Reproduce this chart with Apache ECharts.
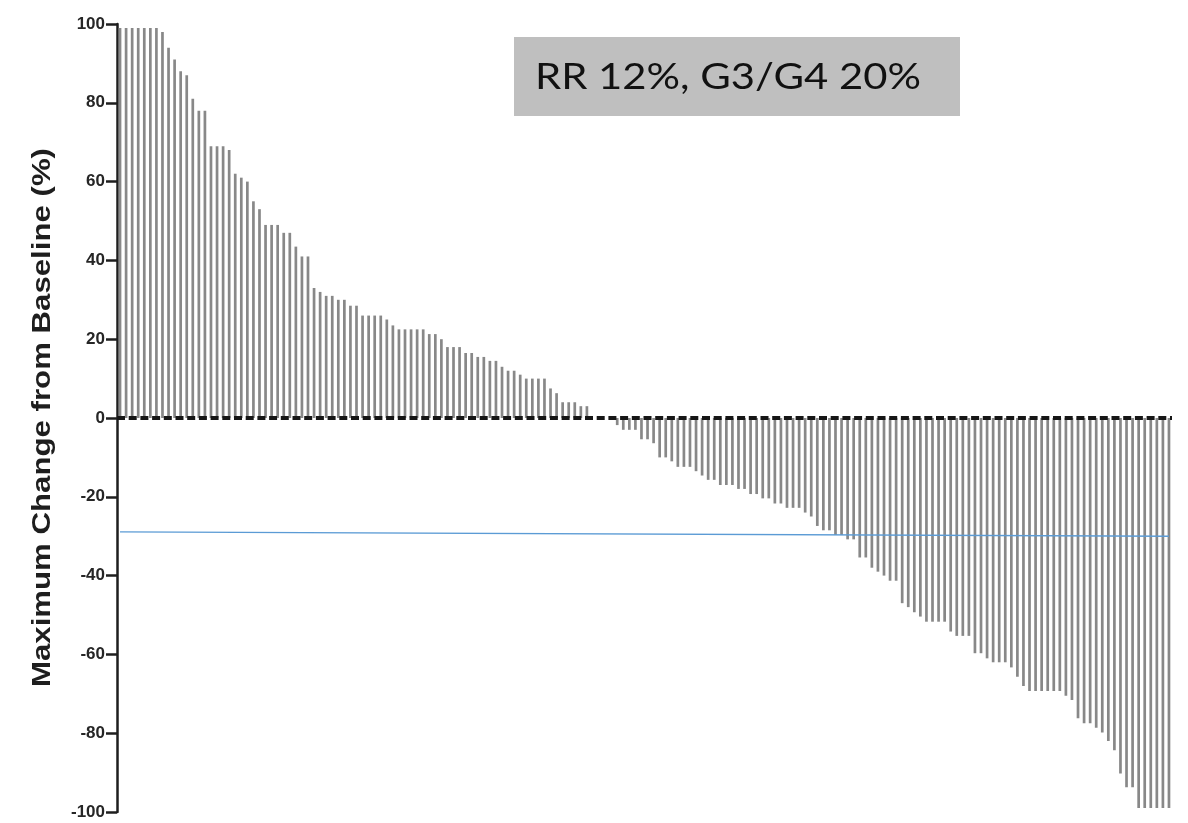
<!DOCTYPE html>
<html>
<head>
<meta charset="utf-8">
<script src="https://cdn.jsdelivr.net/npm/echarts@6/dist/echarts.min.js"></script>
<style>
  html, body { margin: 0; padding: 0; background: #ffffff; }
  #chart { width: 1188px; height: 823px; }
</style>
</head>
<body>
<div id="chart"></div>
<script>
// Maximum change from baseline (%) per patient, sorted high to low
const increases = [
  99, 99, 99, 99, 99, 99, 99, 98, 94, 91,
  88, 87, 81, 78, 78, 69, 69, 69, 68, 62,
  61, 60, 55, 53, 49, 49, 49, 47, 47, 43.5,
  41, 41, 33, 32, 31, 31, 30, 30, 28.5, 28.5,
  26, 26, 26, 26, 25, 23.5, 22.5, 22.5, 22.5, 22.5,
  22.5, 21.3, 21.3, 20, 18, 18, 18, 16.5, 16.5, 15.5,
  15.5, 14.5, 14.5, 13, 12, 12, 11, 10, 10, 10,
  10, 7.5, 6.3, 4, 4, 4, 3, 3
];
const unchanged = [0, 0, 0, 0];
const decreases = [
  -1.8, -3, -3, -3, -5.4, -5.4, -6.4, -10, -10, -11,
  -12.4, -12.4, -12.4, -13.5, -14.6, -15.7, -15.7, -17, -17, -17,
  -18, -18, -19.3, -19.3, -20.4, -20.4, -21.7, -21.7, -22.8, -22.8,
  -22.8, -24, -25, -27.4, -28.5, -28.5, -29.7, -29.7, -30.8, -30.8,
  -35.4, -35.4, -38, -39, -40, -41.3, -41.3, -47, -48, -49.3,
  -50.4, -51.7, -51.7, -51.7, -51.7, -54.2, -55.3, -55.3, -55.3, -59.7,
  -59.7, -61, -62, -62, -62, -63.3, -65.7, -68, -69.3, -69.3,
  -69.3, -69.3, -69.3, -69.3, -70.5, -71.6, -76.2, -77.5, -77.5, -78.6,
  -79.8, -82, -84.3, -90.2, -93.7, -93.7, -99, -99, -99, -99,
  -99, -99
];

// Partial-response reference line (start and end values)
const responseLine = [-28.9, -30];

const yTickValues = [-100, -80, -60, -40, -20, 0, 20, 40, 60, 80, 100];
const yTickLabels = ['-100', '-80', '-60', '-40', '-20', '0', '20', '40', '60', '80', '100'];

const yAxisTitle = 'Maximum Change from Baseline (%)';
const annotationText = 'RR 12%, G3/G4 20%';

const maxChange = increases.concat(unchanged, decreases);
const patients = maxChange.map((_, i) => 'P' + (i + 1));

function textWidth(font, text) {
  const ctx = document.createElement('canvas').getContext('2d');
  ctx.font = font;
  return ctx.measureText(text).width;
}

const TITLE_FONT = 'bold 25px "Liberation Sans", Arial, sans-serif';
const NOTE_FONT = '36px Lato, "Open Sans", sans-serif';
const titleScale = 539 / textWidth(TITLE_FONT, yAxisTitle);
const noteScale = 386 / textWidth(NOTE_FONT, annotationText);

const chart = echarts.init(document.getElementById('chart'), null, { renderer: 'canvas' });

chart.setOption({
  animation: false,
  backgroundColor: '#ffffff',
  grid: { left: 117, right: 16, top: 24, bottom: 11, containLabel: false },
  xAxis: {
    type: 'category',
    data: patients,
    boundaryGap: true,
    axisLine: { show: false },
    axisTick: { show: false },
    axisLabel: { show: false },
    splitLine: { show: false }
  },
  yAxis: {
    type: 'value',
    min: yTickValues[0],
    max: yTickValues[yTickValues.length - 1],
    interval: 20,
    axisLine: { show: true, lineStyle: { color: '#1e1e1e', width: 2.5 } },
    axisTick: { show: true, length: 11, lineStyle: { color: '#1e1e1e', width: 2.5 } },
    axisLabel: {
      margin: 12,
      color: '#262626',
      fontFamily: '"Liberation Sans", Arial, sans-serif',
      fontWeight: 'bold',
      fontSize: 17,
      formatter: v => yTickLabels[yTickValues.indexOf(v)]
    },
    splitLine: { show: false }
  },
  series: [{
    type: 'bar',
    data: maxChange,
    barWidth: 2.7,
    itemStyle: { color: '#888888' },
    silent: true,
    markLine: {
      silent: true,
      symbol: 'none',
      label: { show: false },
      data: [
        {
          yAxis: 0,
          lineStyle: { color: '#161616', width: 4, type: [8, 3.7] }
        },
        [
          { coord: [patients[0], responseLine[0]], lineStyle: { color: '#5b9bd5', width: 1.4, type: 'solid' } },
          { coord: [patients[patients.length - 1], responseLine[1]] }
        ]
      ]
    }
  }],
  graphic: [
    {
      type: 'text',
      x: 43,
      y: 417.5,
      rotation: Math.PI / 2,
      scaleX: titleScale,
      style: {
        text: yAxisTitle,
        font: TITLE_FONT,
        fill: '#1e1e1e',
        align: 'center',
        verticalAlign: 'middle'
      }
    },
    {
      type: 'rect',
      shape: { x: 514, y: 37, width: 446, height: 79 },
      style: { fill: '#bfbfbf' }
    },
    {
      type: 'text',
      x: 535,
      y: 77,
      scaleX: noteScale,
      style: {
        text: annotationText,
        font: NOTE_FONT,
        fill: '#111111',
        align: 'left',
        verticalAlign: 'middle'
      }
    }
  ]
});
</script>
</body>
</html>
